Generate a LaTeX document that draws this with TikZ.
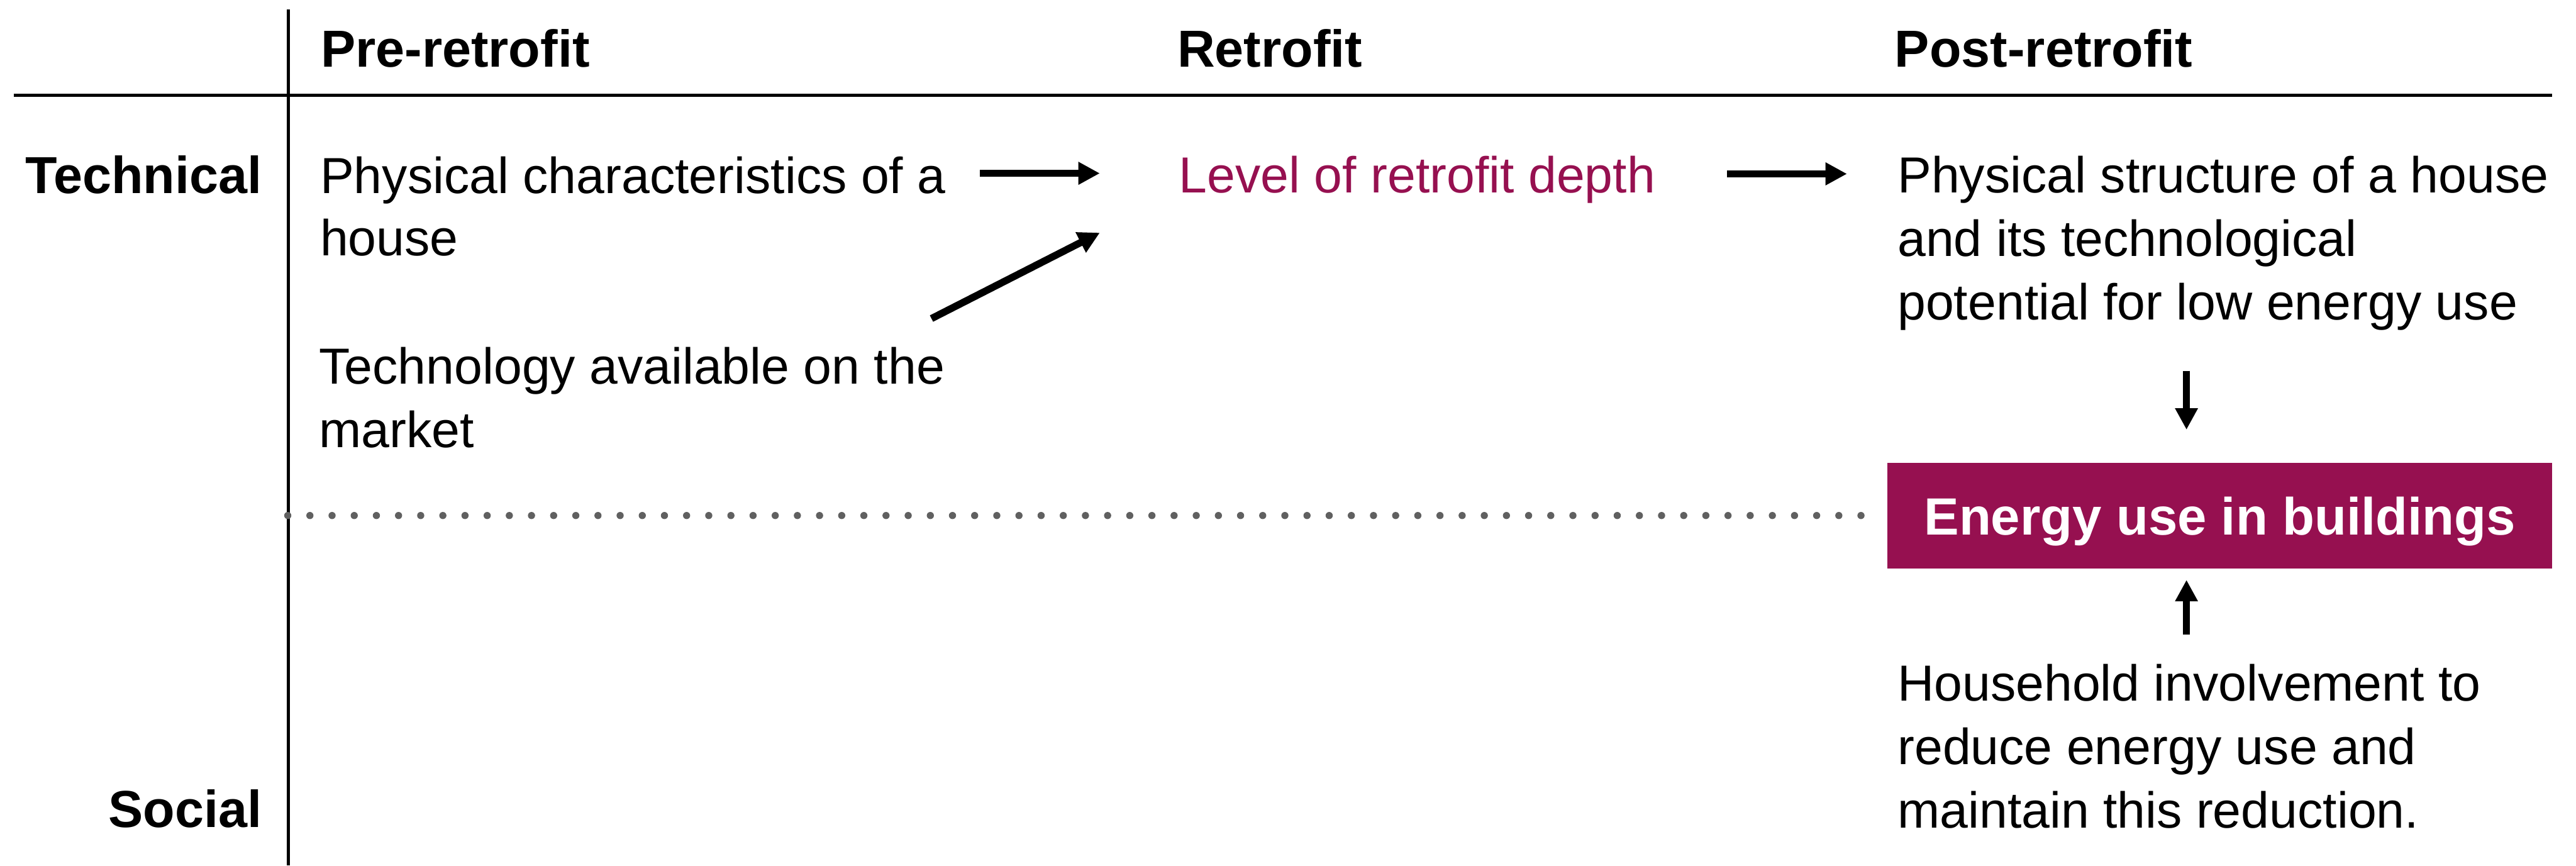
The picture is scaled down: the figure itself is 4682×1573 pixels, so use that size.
\documentclass[tikz,border=0pt]{standalone}
\usepackage{fontspec}
\setmainfont{Liberation Sans}
\usetikzlibrary{arrows.meta}
\definecolor{plum}{RGB}{150,16,80}
\definecolor{dotgray}{RGB}{96,96,96}
\begin{document}
\begin{tikzpicture}[x=0.01cm,y=-0.01cm,
  txt/.style={anchor=base west, inner sep=0pt, outer sep=0pt, align=left, font=\fontsize{26.2}{32.8}\selectfont},
  hdr/.style={anchor=base west, inner sep=0pt, outer sep=0pt, font=\fontsize{26.9}{32}\selectfont\bfseries},
  rowlab/.style={anchor=base east, inner sep=0pt, outer sep=0pt, font=\fontsize{26.9}{32}\selectfont\bfseries},
  arr/.style={line width=0.13cm, -{Triangle[length=0.39cm,width=0.39cm]}},
  rulebar/.style={line width=0.05cm},
  dotrow/.style={line width=0.13cm, dotgray, line cap=round, dash pattern=on 0cm off 0.4025cm},
  energybox/.style={fill=plum, text=white, inner sep=0pt, minimum width=12.07cm, text height=1.31cm, text depth=0.61cm, font=\fontsize{27.1}{32}\selectfont\bfseries}
]
\useasboundingbox (0,0) rectangle (4682,1573);

% grid lines
\coordinate (vtop) at (524,17);
\coordinate (vbot) at (524,1573);
\coordinate (hl) at (25,173);
\coordinate (hr) at (4638,173);
\draw[rulebar] (vtop) -- (vbot);
\draw[rulebar] (hl) -- (hr);

% headers
\node[hdr] (hpre) at (583,122) {Pre-retrofit};
\node[hdr] (hret) at (2140,122) {Retrofit};
\node[hdr] (hpost) at (3444,122) {Post-retrofit};

% row labels
\node[rowlab] (ltech) at (476,352) {Technical};
\node[rowlab] (lsoc) at (476,1504) {Social};

% texts (multi-line nodes: base anchor is the last line's baseline)
\node[txt, font=\fontsize{26.2}{32.4}\selectfont] (phys) at (582,465) {Physical characteristics of a\\house};
\node[txt, font=\fontsize{26.2}{32.9}\selectfont] (tech) at (580,813) {Technology available on the\\market};
\node[txt, text=plum] (level) at (2143,350) {Level of retrofit depth};
\node[txt, font=\fontsize{26.2}{32.8}\selectfont] (struct) at (3449,581) {Physical structure of a house\\and its technological\\potential for low energy use};
\node[txt, font=\fontsize{26.2}{32.8}\selectfont] (house) at (3449,1505) {Household involvement to\\reduce energy use and\\maintain this reduction.};

% energy box
\node[energybox] (energy) at (4034.5,937) {Energy use in buildings};

% dotted separator
\coordinate (dotl) at (523,937);
\coordinate (dotr) at (3422,937);
\draw[dotrow] (dotl) -- (dotr);

% arrows
\coordinate (a1s) at (1781,315);
\coordinate (a1e) at (1999,315);
\coordinate (a2s) at (1693,579);
\coordinate (a2e) at (1999,423);
\coordinate (a3s) at (3139,316);
\coordinate (a3e) at (3357,316);
\coordinate (a4s) at (3974,674);
\coordinate (a4e) at (3974,781);
\coordinate (a5s) at (3974,1153);
\coordinate (a5e) at (3974,1054);
\draw[arr] (a1s) -- (a1e);
\draw[arr] (a2s) -- (a2e);
\draw[arr] (a3s) -- (a3e);
\draw[arr] (a4s) -- (a4e);
\draw[arr] (a5s) -- (a5e);
\end{tikzpicture}
\end{document}
